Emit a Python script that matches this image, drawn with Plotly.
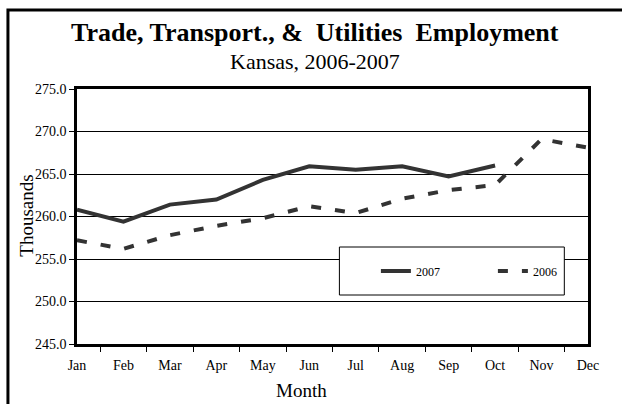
import plotly.graph_objects as go

months = ["Jan", "Feb", "Mar", "Apr", "May", "Jun", "Jul", "Aug", "Sep", "Oct", "Nov", "Dec"]
y2007 = [260.8, 259.4, 261.4, 262.0, 264.3, 265.9, 265.5, 265.9, 264.7, 266.0]
y2006 = [257.2, 256.2, 257.8, 258.9, 259.8, 261.2, 260.4, 262.1, 263.1, 263.7, 269.1, 268.1]
y_ticks = [245, 250, 255, 260, 265, 270, 275]

FONT = "Liberation Serif, Times New Roman, serif"
LINE = "#333333"

# plot area in pixels: left 77, right 595, top 89, bottom 344
L, R, T, B = 77, 595, 89, 344
W, H = 622, 404
def px(x):
    return (x - L) / (R - L)
def py(y):
    return 1 - (y - T) / (B - T)

fig = go.Figure()
fig.add_trace(go.Scatter(x=months[:len(y2007)], y=y2007, mode="lines", name="2007",
                         line=dict(color=LINE, width=4)))
fig.add_trace(go.Scatter(x=months, y=y2006, mode="lines", name="2006",
                         line=dict(color=LINE, width=4, dash="10px,14px")))

fig.update_layout(
    width=W, height=H,
    margin=dict(l=L, r=W - R, t=T, b=H - B),
    paper_bgcolor="white", plot_bgcolor="white",
    font=dict(family=FONT, color="black", size=14),
    showlegend=True,
    legend=dict(orientation="h", x=px(380), y=py(271), xanchor="left", yanchor="middle",
                bgcolor="rgba(0,0,0,0)", borderwidth=0, font=dict(size=12, family=FONT, color="black"),
                entrywidth=72, traceorder="normal"),
    xaxis=dict(categoryorder="array", categoryarray=months, tickson="boundaries",
               ticks="outside", ticklen=5, tickcolor="black", showgrid=False,
               showline=True, linecolor="black", linewidth=2.5, mirror=True,
               ticklabelstandoff=6,
               tickfont=dict(size=14, family=FONT)),
    yaxis=dict(range=[245, 275], tickvals=y_ticks, tickformat=".1f",
               ticks="outside", ticklen=5, tickcolor="black",
               showgrid=True, gridcolor="black", gridwidth=1,
               showline=True, linecolor="black", linewidth=2.5, mirror=True,
               zeroline=False, tickfont=dict(size=14, family=FONT)),
    shapes=[
        dict(type="path", xref="paper", yref="paper",
             path=f"M {px(7)} {py(420)} L {px(7)} {py(10)} L {px(640)} {py(10)}",
             line=dict(color="black", width=3)),
        dict(type="rect", xref="paper", yref="paper", layer="above",
             x0=px(343), x1=px(571), y0=py(295), y1=py(247),
             fillcolor="white", line=dict(color="black", width=1)),
    ],
    annotations=[
        dict(text="<b>Trade, Transport., &amp;  Utilities  Employment</b>", xref="paper", yref="paper",
             x=px(318), y=py(33), xanchor="center", yanchor="middle",
             showarrow=False, font=dict(size=26, family=FONT)),
        dict(text="Kansas, 2006-2007", xref="paper", yref="paper",
             x=px(318), y=py(62), xanchor="center", yanchor="middle",
             showarrow=False, font=dict(size=22, family=FONT)),
        dict(text="Thousands", xref="paper", yref="paper", textangle=-90,
             x=px(25), y=py(216), xanchor="center", yanchor="middle",
             showarrow=False, font=dict(size=19, family=FONT)),
        dict(text="Month", xref="paper", yref="paper",
             x=px(305), y=py(390), xanchor="center", yanchor="middle",
             showarrow=False, font=dict(size=19, family=FONT)),
    ],
)

fig.write_html("out.html", config={"displayModeBar": False},
               post_script="document.body.style.margin='0';document.body.style.overflow='hidden';")
